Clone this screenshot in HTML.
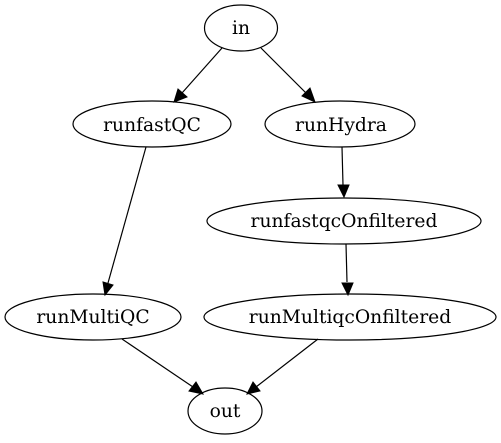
<!DOCTYPE html>
<html><head><style>html,body{margin:0;padding:0;background:#fff}svg{display:block}text{font-family:"DejaVu Serif",serif;font-size:18.7px}</style></head><body>
<svg width="501" height="443" viewBox="0 0 501 443" xmlns="http://www.w3.org/2000/svg">
<g fill="none" stroke="#000" stroke-width="1.2">
<ellipse cx="241" cy="28" rx="36.5" ry="23"/>
<ellipse cx="152" cy="124" rx="79" ry="23"/>
<ellipse cx="340" cy="124" rx="75" ry="23"/>
<ellipse cx="344" cy="221" rx="137" ry="23"/>
<ellipse cx="93" cy="317" rx="88" ry="23"/>
<ellipse cx="350" cy="317" rx="146" ry="23"/>
<ellipse cx="225" cy="411" rx="37" ry="23"/>
<line x1="222" y1="48" x2="182" y2="93"/>
<line x1="261" y1="48" x2="306" y2="93"/>
<line x1="146" y1="147" x2="108" y2="283"/>
<line x1="342" y1="147" x2="343" y2="185"/>
<line x1="346" y1="244" x2="347" y2="282"/>
<line x1="122" y1="339" x2="193" y2="387"/>
<line x1="318" y1="339" x2="256" y2="387"/>
</g>
<g fill="#000" stroke="#000">
<polygon points="174,102 178,89 187,97"/>
<polygon points="315,102 302,96 310,88"/>
<polygon points="105,295 103,282 113,285"/>
<polygon points="344,197 338,185 349,185"/>
<polygon points="348,295 342,283 353,283"/>
<polygon points="203,394 189,391 196,382"/>
<polygon points="247,394 253,382 260,391"/>
</g>
<g text-anchor="middle" fill="#000">
<text x="241" y="34">in</text>
<text x="152" y="131">runfastQC</text>
<text x="341" y="131">runHydra</text>
<text x="344" y="227">runfastqcOnfiltered</text>
<text x="93" y="323">runMultiQC</text>
<text x="350" y="323">runMultiqcOnfiltered</text>
<text x="225" y="417">out</text>
</g>
</svg>
</body></html>
